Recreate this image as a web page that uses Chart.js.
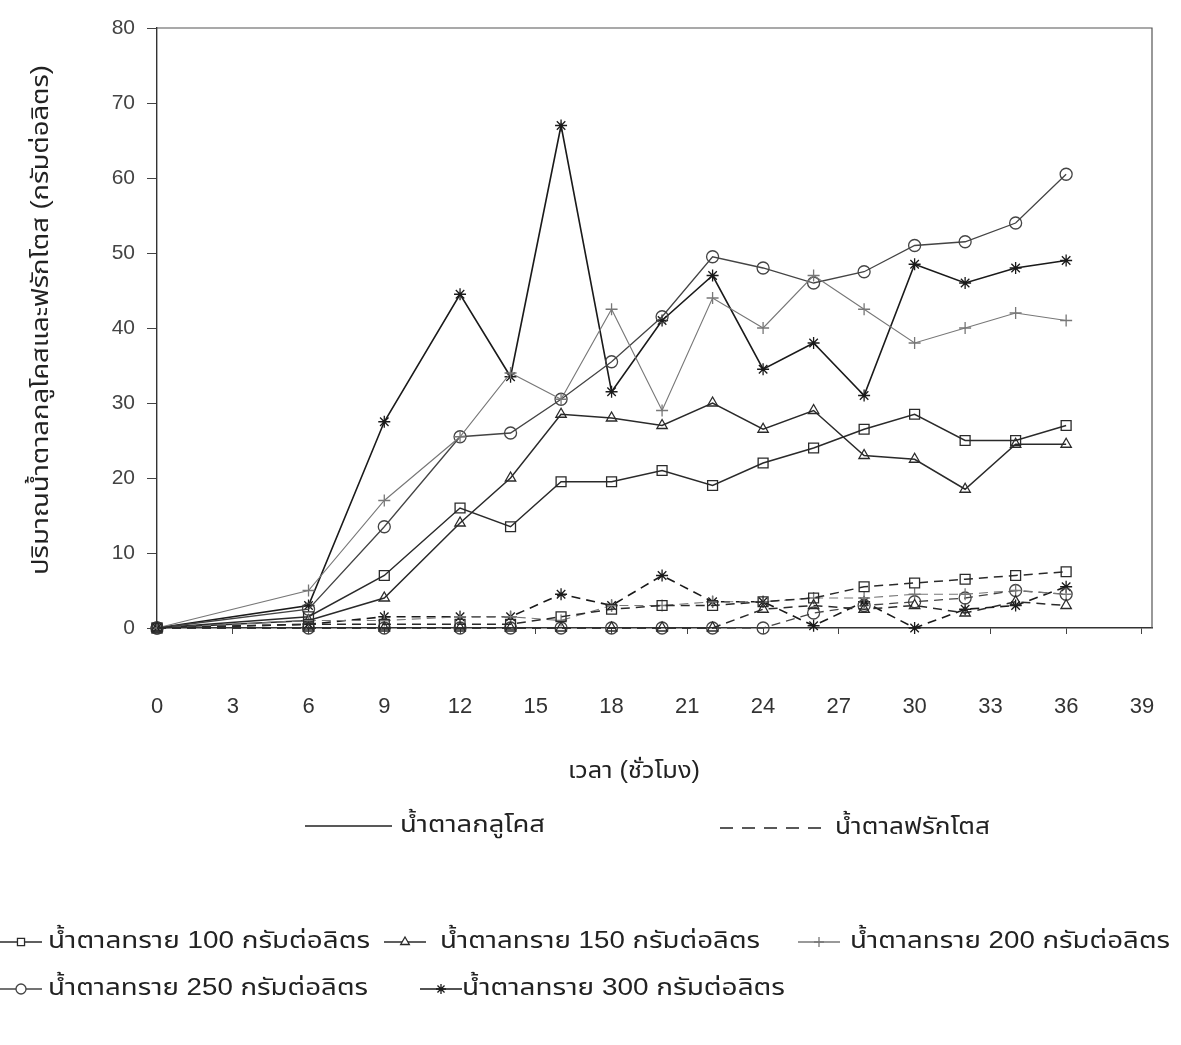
<!DOCTYPE html>
<html>
<head>
<meta charset="utf-8">
<script src="https://cdn.jsdelivr.net/npm/chart.js@4.4.1/dist/chart.umd.min.js"></script>
<style>
    html, body { margin: 0; padding: 0; background: #fff; }
    #wrap { width: 1181px; height: 1045px; position: relative; }
</style>
</head>
<body>
<div id="wrap"><canvas id="sugarChart"></canvas></div>
<script>
// time (hours)
var hours = [0, 6, 9, 12, 14, 16, 18, 20, 22, 24, 26, 28, 30, 32, 34, 36];
var xTicks = [0, 3, 6, 9, 12, 15, 18, 21, 24, 27, 30, 33, 36, 39];
var yTicks = [0, 10, 20, 30, 40, 50, 60, 70, 80];

// glucose (solid lines)
var glucose100 = [0, 1.5, 7, 16, 13.5, 19.5, 19.5, 21, 19, 22, 24, 26.5, 28.5, 25, 25, 27];
var glucose150 = [0, 1, 4, 14, 20, 28.5, 28, 27, 30, 26.5, 29, 23, 22.5, 18.5, 24.5, 24.5];
var glucose200 = [0, 5, 17, 25.5, 34, 30.5, 42.5, 29, 44, 40, 47, 42.5, 38, 40, 42, 41];
var glucose250 = [0, 2.5, 13.5, 25.5, 26, 30.5, 35.5, 41.5, 49.5, 48, 46, 47.5, 51, 51.5, 54, 60.5];
var glucose300 = [0, 3, 27.5, 44.5, 33.5, 67, 31.5, 41, 47, 34.5, 38, 31, 48.5, 46, 48, 49];

// fructose (dashed lines)
var fructose100 = [0, 0.5, 0.5, 0.5, 0.5, 1.5, 2.5, 3, 3, 3.5, 4, 5.5, 6, 6.5, 7, 7.5];
var fructose150 = [0, 0, 0, 0, 0, 0, 0, 0, 0, 2.5, 3, 2.5, 3, 2, 3.5, 3];
var fructose200 = [0, 1, 1, 1.5, 1.5, 1, 3, 3, 3.5, 3.5, 4, 4, 4.5, 4.5, 5, 4.5];
var fructose250 = [0, 0, 0, 0, 0, 0, 0, 0, 0, 0, 2, 3, 3.5, 4, 5, 4.5];
var fructose300 = [0, 0.5, 1.5, 1.5, 1.5, 4.5, 3, 7, 3.5, 3.5, 0.3, 3.5, 0, 2.5, 3, 5.5];

var seriesLabels = [
    'น้ำตาลทราย 100 กรัมต่อลิตร',
    'น้ำตาลทราย 150 กรัมต่อลิตร',
    'น้ำตาลทราย 200 กรัมต่อลิตร',
    'น้ำตาลทราย 250 กรัมต่อลิตร',
    'น้ำตาลทราย 300 กรัมต่อลิตร'
];

var FONT = 'Arial, "Liberation Sans", "Noto Sans Thai", "Noto Sans", sans-serif';
var NARROW = '"Liberation Sans Narrow", "Arial Narrow", Arial, "Liberation Sans", sans-serif';
var THAI = '23px ' + FONT;
var styles = [
    { point: 'rect', radius: 7, color: '#2a2a2a', width: 1.5 },
    { point: 'triangle', radius: 6, color: '#2a2a2a', width: 1.5 },
    { point: 'cross', radius: 6, color: '#777', width: 1.1 },
    { point: 'circle', radius: 6, color: '#444', width: 1.3 },
    { point: 'star', radius: 6, color: '#1a1a1a', width: 1.6 }
];

function toPoints(values) {
    return values.map(function (v, i) { return { x: hours[i], y: v }; });
}

function makeSet(values, idx, dashed) {
    var s = styles[idx];
    return {
        label: seriesLabels[idx] + (dashed ? ' (ฟรักโตส)' : ''),
        data: toPoints(values),
        borderColor: s.color,
        borderWidth: s.width,
        borderDash: dashed ? [9, 6] : [],
        pointStyle: s.point,
        pointRadius: s.radius,
        pointBorderColor: s.color,
        pointBorderWidth: 1.3,
        pointBackgroundColor: 'rgba(255,255,255,0)',
        tension: 0,
        clip: false
    };
}

var glucoseSets = [glucose100, glucose150, glucose200, glucose250, glucose300];
var fructoseSets = [fructose100, fructose150, fructose200, fructose250, fructose300];
var datasets = [];
fructoseSets.forEach(function (d, i) { datasets.push(makeSet(d, i, true)); });
glucoseSets.forEach(function (d, i) { datasets.push(makeSet(d, i, false)); });

// fit text into a given width (the scanned font is narrow)
function fitText(ctx, text, x, y, width) {
    var w = ctx.measureText(text).width;
    ctx.save();
    ctx.translate(x, y);
    ctx.scale(width / w, 1);
    ctx.fillText(text, 0, 0);
    ctx.restore();
}

// frame, axis titles and the two legends
var extrasPlugin = {
    id: 'extras',
    afterDraw: function (chart) {
        var ctx = chart.ctx;
        var a = chart.chartArea;
        ctx.save();
        ctx.strokeStyle = '#555';
        ctx.lineWidth = 1.2;
        ctx.beginPath();
        ctx.moveTo(a.left, a.top);
        ctx.lineTo(a.right, a.top);
        ctx.lineTo(a.right, a.bottom);
        ctx.stroke();

        ctx.fillStyle = '#222';
        ctx.textBaseline = 'middle';
        ctx.textAlign = 'left';
        ctx.font = THAI;

        // y title
        ctx.save();
        ctx.translate(42, 575);
        ctx.rotate(-Math.PI / 2);
        fitText(ctx, 'ปริมาณน้ำตาลกลูโคสและฟรักโตส (กรัมต่อลิตร)', 0, 0, 510);
        ctx.restore();

        // x title
        fitText(ctx, 'เวลา (ชั่วโมง)', 568, 772, 132);

        // line style legend
        ctx.strokeStyle = '#222';
        ctx.lineWidth = 1.6;
        ctx.beginPath();
        ctx.moveTo(305, 826);
        ctx.lineTo(392, 826);
        ctx.stroke();
        fitText(ctx, 'น้ำตาลกลูโคส', 400, 826, 145);
        ctx.setLineDash([13, 9]);
        ctx.beginPath();
        ctx.moveTo(720, 828);
        ctx.lineTo(826, 828);
        ctx.stroke();
        ctx.setLineDash([]);
        fitText(ctx, 'น้ำตาลฟรักโตส', 835, 828, 155);

        // marker legend
        var items = [
            { x: 0, y: 942, tx: 48, w: 322 },
            { x: 384, y: 942, tx: 440, w: 320 },
            { x: 798, y: 942, tx: 850, w: 320 },
            { x: 0, y: 989, tx: 48, w: 320 },
            { x: 420, y: 989, tx: 462, w: 323 }
        ];
        items.forEach(function (it, i) {
            var s = styles[i];
            ctx.strokeStyle = s.color;
            ctx.lineWidth = 1.3;
            ctx.beginPath();
            ctx.moveTo(it.x, it.y);
            ctx.lineTo(it.x + 42, it.y);
            ctx.stroke();
            ctx.fillStyle = '#fff';
            Chart.helpers.drawPoint(ctx, {
                pointStyle: s.point, radius: 5, rotation: 0, borderWidth: 1.2
            }, it.x + 21, it.y);
            ctx.fillStyle = '#222';
            ctx.font = THAI;
            fitText(ctx, seriesLabels[i], it.tx, it.y, it.w);
        });
        ctx.restore();
    }
};

new Chart(document.getElementById('sugarChart').getContext('2d'), {
    type: 'line',
    data: { datasets: datasets },
    options: {
        responsive: true,
        maintainAspectRatio: false,
        animation: false,
        layout: { padding: { top: 28, right: 29, left: 0, bottom: 0 } },
        plugins: {
            legend: { display: false },
            tooltip: { enabled: false }
        },
        scales: {
            x: {
                type: 'linear',
                min: 0,
                max: 39.4,
                afterBuildTicks: function (scale) {
                    scale.ticks = xTicks.map(function (v) { return { value: v }; });
                },
                afterFit: function (scale) {
                    scale.height = 417;
                    scale.paddingLeft = 0;
                    scale.paddingRight = 0;
                },
                grid: { drawOnChartArea: false, drawTicks: true, tickLength: 6, color: '#444' },
                border: { display: true, color: '#333', width: 1.4 },
                ticks: {
                    autoSkip: false,
                    maxRotation: 0,
                    padding: 60,
                    color: '#333',
                    font: { family: NARROW, size: 22 }
                }
            },
            y: {
                min: 0,
                max: 80,
                afterBuildTicks: function (scale) {
                    scale.ticks = yTicks.map(function (v) { return { value: v }; });
                },
                afterFit: function (scale) { scale.width = 157; },
                grid: { drawOnChartArea: false, drawTicks: true, tickLength: 10, color: '#444' },
                border: { display: true, color: '#333', width: 1.4 },
                ticks: {
                    padding: 12,
                    color: '#444',
                    font: { family: FONT, size: 21 }
                }
            }
        }
    },
    plugins: [extrasPlugin]
});
</script>
</body>
</html>
